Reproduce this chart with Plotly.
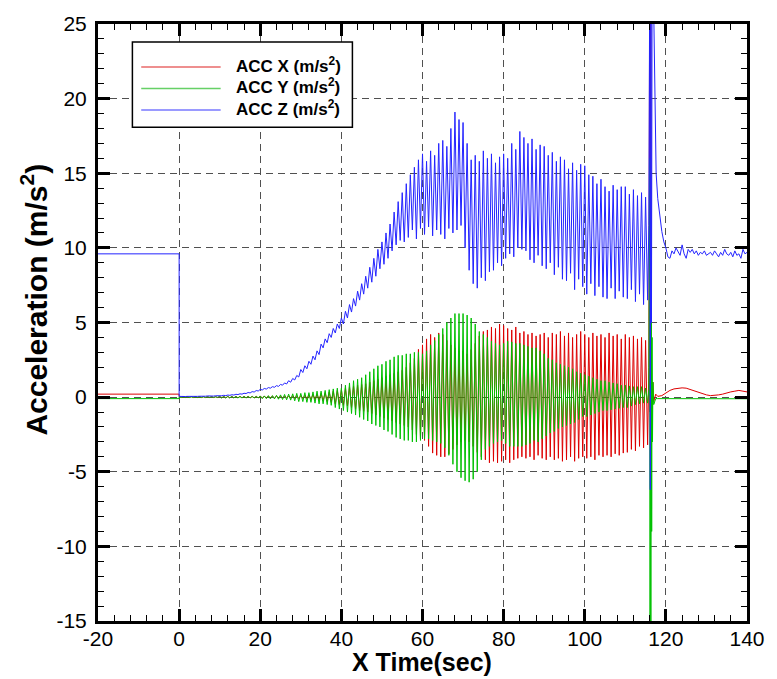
import plotly.graph_objects as go

# ---------------- data ----------------
# constant segment before launch (t = -20 .. 0 s)
pre_t = [-20.0, 0.0]
accx_pre = [0.2, 0.2]
accy_pre = [-0.1, -0.1]
accz_pre = [9.6, 9.6]

# oscillation cycles, one per second from t = 0 to 115 s:
# peak value at t = k, trough value at t = k + 0.5
cycle_start = list(range(0, 116))

accx_hi = [0.03]*10 + [0.04]*10 + [
    0.05, 0.05, 0.05, 0.06, 0.06, 0.07, 0.07, 0.08, 0.09, 0.10,
    0.10, 0.12, 0.15, 0.18, 0.20, 0.25, 0.30, 0.35, 0.40, 0.45,
    0.50, 0.60, 0.70, 0.75, 0.80, 0.85, 0.90, 1.00, 1.10, 1.20,
    1.30, 1.40, 1.50, 1.60, 1.70, 1.80, 2.00, 2.30, 2.60, 3.20,
    3.50, 3.90, 4.20, 4.00, 4.30, 4.20, 3.80, 3.50, 3.30, 3.10,
    3.10, 2.90, 3.20, 3.60, 4.10, 4.40, 4.50, 4.70, 4.60, 4.90,
    4.80, 4.60, 4.50, 4.70, 4.30, 4.40, 4.20, 4.30, 4.10, 4.20,
    4.30, 4.00, 4.30, 4.20, 4.40, 4.10, 4.30, 4.00, 4.20, 4.40,
    4.20, 4.00, 4.30, 4.10, 4.20, 4.00, 4.30, 4.10, 4.20, 3.90,
    4.20, 4.00, 4.10, 3.90, 4.00, 3.80]
accx_lo = [-0.03]*10 + [-0.04]*10 + [
    -0.05, -0.05, -0.05, -0.06, -0.06, -0.07, -0.07, -0.08, -0.09, -0.10,
    -0.10, -0.12, -0.15, -0.18, -0.20, -0.25, -0.30, -0.35, -0.45, -0.50,
    -0.55, -0.60, -0.70, -0.80, -0.90, -0.95, -1.00, -1.10, -1.20, -1.30,
    -1.40, -1.50, -1.60, -1.70, -1.80, -1.90, -2.00, -2.20, -2.50, -2.80,
    -2.90, -3.30, -3.75, -3.90, -4.00, -4.00, -3.80, -3.50, -3.20, -3.00,
    -2.90, -3.00, -3.30, -3.70, -4.00, -4.20, -4.40, -4.30, -4.40, -4.30,
    -4.20, -4.40, -4.20, -4.10, -4.00, -4.10, -4.00, -4.20, -3.90, -4.10,
    -4.20, -4.00, -4.20, -4.10, -4.30, -4.20, -4.00, -4.30, -4.10, -4.00,
    -4.10, -4.00, -4.20, -3.90, -4.00, -3.90, -4.00, -3.80, -3.90, -3.75,
    -3.70, -3.50, -3.60, -3.30, -3.40, -3.20]

accy_hi = [0.02]*10 + [0.05]*10 + [
    0.08, 0.08, 0.10, 0.10, 0.12, 0.15, 0.18, 0.20, 0.22, 0.25,
    0.25, 0.30, 0.30, 0.35, 0.40, 0.40, 0.45, 0.50, 0.55, 0.60,
    0.60, 0.80, 0.95, 1.10, 1.20, 1.30, 1.50, 1.70, 1.90, 2.10,
    2.20, 2.40, 2.50, 2.70, 2.80, 2.80, 2.90, 2.90, 3.00, 3.00,
    2.90, 3.10, 3.50, 3.80, 4.20, 4.60, 5.00, 5.30, 5.60, 5.60,
    5.60, 5.50, 5.30, 4.90, 4.40, 4.20, 4.00, 3.75, 3.60, 3.50,
    3.60, 3.75, 3.70, 3.60, 3.60, 3.50, 3.40, 3.30, 3.30, 3.10,
    2.90, 2.60, 2.50, 2.30, 2.20, 2.10, 2.00, 1.90, 1.70, 1.60,
    1.50, 1.40, 1.30, 1.20, 1.10, 1.10, 1.00, 0.95, 0.90, 0.80,
    0.80, 0.75, 0.70, 0.70, 0.70, 0.60]
accy_lo = [-0.02]*10 + [-0.06]*10 + [
    -0.10, -0.10, -0.12, -0.12, -0.14, -0.16, -0.18, -0.20, -0.25, -0.30,
    -0.30, -0.35, -0.35, -0.40, -0.45, -0.45, -0.50, -0.55, -0.70, -0.80,
    -0.90, -1.00, -1.10, -1.20, -1.35, -1.50, -1.60, -1.80, -1.90, -2.00,
    -2.20, -2.30, -2.50, -2.70, -2.80, -2.90, -2.90, -3.00, -3.00, -2.90,
    -2.80, -2.80, -2.90, -3.00, -3.10, -3.40, -3.90, -4.50, -5.00, -5.40,
    -5.60, -5.70, -5.50, -5.00, -4.20, -3.50, -3.30, -3.10, -3.00, -2.90,
    -3.10, -3.30, -3.30, -3.30, -3.30, -3.20, -3.10, -2.90, -3.00, -2.80,
    -2.60, -2.40, -2.30, -2.10, -2.00, -1.90, -1.80, -1.70, -1.50, -1.30,
    -1.30, -1.20, -1.10, -1.00, -0.90, -0.90, -0.85, -0.80, -0.75, -0.70,
    -0.70, -0.60, -0.50, -0.45, -0.40, -0.40]

accz_hi = [
    0.05, 0.05, 0.05, 0.05, 0.06, 0.06, 0.07, 0.08, 0.08, 0.09,
    0.10, 0.12, 0.14, 0.16, 0.19, 0.22, 0.26, 0.31, 0.37, 0.44,
    0.52, 0.58, 0.64, 0.70, 0.77, 0.85, 0.95, 1.10, 1.25, 1.45,
    1.85, 2.10, 2.40, 2.75, 3.10, 3.55, 3.90, 4.25, 4.60, 4.90,
    5.30, 5.75, 6.20, 6.60, 7.10, 7.60, 8.10, 8.70, 9.30, 9.90,
    10.4, 11.0, 11.6, 12.4, 13.1, 13.7, 14.3, 14.9, 15.4, 15.9,
    16.3, 15.8, 16.5, 16.2, 17.0, 17.2, 16.8, 18.0, 19.1, 18.6,
    18.4, 17.0, 15.9, 16.2, 15.8, 16.5, 16.0, 16.3, 15.7, 16.1,
    16.3, 16.0, 17.0, 16.6, 17.8, 17.4, 17.0, 17.3, 16.6, 16.9,
    16.8, 16.2, 16.4, 15.8, 16.1, 15.9, 15.3, 15.7, 15.2, 15.6,
    15.5, 14.9, 14.8, 14.3, 14.6, 14.1, 13.8, 14.2, 13.9, 14.1,
    14.1, 13.6, 13.9, 13.5, 13.7, 13.4]
accz_lo = [
    0.03, 0.04, 0.04, 0.04, 0.05, 0.05, 0.06, 0.06, 0.07, 0.08,
    0.09, 0.10, 0.12, 0.14, 0.17, 0.20, 0.24, 0.28, 0.34, 0.41,
    0.48, 0.54, 0.60, 0.66, 0.72, 0.80, 0.88, 1.00, 1.15, 1.35,
    1.65, 1.90, 2.20, 2.50, 2.85, 3.30, 3.65, 4.00, 4.30, 4.60,
    4.90, 5.30, 5.70, 6.10, 6.50, 6.90, 7.30, 7.70, 8.10, 8.60,
    8.90, 9.30, 9.80, 10.2, 10.5, 10.4, 10.7, 11.2, 10.6, 11.3,
    10.9, 11.4, 10.8, 11.2, 10.9, 10.6, 11.3, 11.0, 11.2, 11.5,
    10.0, 8.5, 7.6, 7.3, 8.0, 7.8, 8.4, 8.5, 9.0, 8.8,
    9.3, 9.6, 9.4, 10.0, 9.9, 9.8, 9.2, 9.0, 9.5, 8.8,
    8.6, 9.0, 8.2, 8.7, 7.9, 7.8, 8.3, 7.2, 7.9, 7.4,
    6.9, 7.6, 6.8, 7.4, 6.7, 6.6, 7.3, 6.6, 7.1, 6.7,
    6.6, 7.2, 6.4, 6.9, 6.2, 6.5]

# impact spike near t = 116 s (values above 25 / below -15 are clipped)
accx_spike_t = [115.8, 116.0, 116.1, 116.25, 116.4, 116.6, 116.8, 117.0, 117.5, 118.0]
accx_spike_v = [2.0, 27.0, -1.0, 27.0, 3.5, -0.8, 1.0, -0.3, 0.2, 0.05]
accy_spike_t = [115.8, 116.0, 116.1, 116.2, 116.3, 116.4, 116.5, 116.6, 116.7, 116.8, 117.0, 117.5]
accy_spike_v = [0.5, 16.0, -16.0, 12.0, -15.5, 8.0, -9.0, 4.0, -3.0, 1.0, -0.5, -0.1]
accz_spike_t = [115.8, 116.0, 116.15, 116.3, 116.45, 116.6, 117.0, 117.3, 117.6, 118.0,
                118.3, 118.6, 119.0, 119.5, 120.0]
accz_spike_v = [11.5, 27.0, -6.2, 27.0, 5.0, 27.0, 26.0, 18.9, 15.0, 13.3,
                12.6, 11.7, 11.1, 10.4, 10.0]

# after impact
accx_tail_t = list(range(119, 141))
accx_tail_v = [0.10, 0.30, 0.45, 0.55, 0.60, 0.62, 0.60, 0.50, 0.40, 0.30, 0.20,
               0.15, 0.10, 0.10, 0.15, 0.20, 0.30, 0.35, 0.40, 0.45, 0.40, 0.35]
accy_tail_t = list(range(118, 141))
accy_tail_v = [-0.10, -0.10, -0.12, -0.10, -0.11, -0.10, -0.10, -0.12, -0.10, -0.10,
               -0.11, -0.10, -0.10, -0.12, -0.10, -0.10, -0.11, -0.10, -0.10, -0.12,
               -0.10, -0.10, -0.11]
accz_tail_t = [120.5 + 0.5 * i for i in range(40)]
accz_tail_v = [9.4, 9.3, 9.8, 9.6, 10.0, 9.7, 9.5, 10.2, 9.6, 9.3,
               9.9, 9.7, 9.9, 9.6, 9.8, 9.5, 9.7, 9.6, 9.8, 9.5,
               9.6, 9.7, 9.5, 9.8, 9.6, 9.4, 9.7, 9.5, 9.9, 9.6,
               9.5, 9.7, 9.4, 9.8, 9.5, 9.6, 9.3, 9.9, 9.6, 9.7]

# tick labels (plain hyphen minus, as in the original)
x_tick_vals = [-20, 0, 20, 40, 60, 80, 100, 120, 140]
x_tick_text = ["-20", "0", "20", "40", "60", "80", "100", "120", "140"]
y_tick_vals = [-15, -10, -5, 0, 5, 10, 15, 20, 25]
y_tick_text = ["-15", "-10", "-5", "0", "5", "10", "15", "20", "25"]

series_names = ["ACC X (m/s<sup>2</sup>)", "ACC Y (m/s<sup>2</sup>)", "ACC Z (m/s<sup>2</sup>)"]
series_colors = ["#dd0000", "#00c000", "#2424ff"]
legend_colors = ["#e86a6a", "#66d066", "#7878ff"]


def build(pre_v, hi, lo, sp_t, sp_v, tl_t, tl_v):
    xs = list(pre_t)
    ys = list(pre_v)
    for k, (h, l) in enumerate(zip(hi, lo)):
        xs += [cycle_start[k], cycle_start[k] + 0.5]
        ys += [h, l]
    xs += list(sp_t) + list(tl_t)
    ys += list(sp_v) + list(tl_v)
    return xs, ys


data = [
    build(accx_pre, accx_hi, accx_lo, accx_spike_t, accx_spike_v, accx_tail_t, accx_tail_v),
    build(accy_pre, accy_hi, accy_lo, accy_spike_t, accy_spike_v, accy_tail_t, accy_tail_v),
    build(accz_pre, accz_hi, accz_lo, accz_spike_t, accz_spike_v, accz_tail_t, accz_tail_v),
]

fig = go.Figure()
for (xs, ys), name, col in zip(data, series_names, series_colors):
    fig.add_trace(go.Scatter(x=xs, y=ys, mode="lines", name=name,
                             line=dict(color=col, width=1), showlegend=False))

font_main = "Liberation Sans, Arial, sans-serif"
axis_common = dict(
    showline=True, linewidth=3, linecolor="black", mirror="allticks",
    ticks="inside", ticklen=12, tickwidth=2.5, tickcolor="black",
    showgrid=True, gridcolor="#505050", gridwidth=1, griddash="7px,5px",
    zeroline=False, tickfont=dict(family=font_main, size=21, color="black"),
)

fig.update_layout(
    width=777, height=679,
    margin=dict(l=98, r=18, t=20, b=58),
    paper_bgcolor="white", plot_bgcolor="white",
    xaxis=dict(range=[-20, 140], tickmode="array", tickvals=x_tick_vals, ticktext=x_tick_text,
               ticklabelstandoff=-3,
               minor=dict(dtick=4, tick0=-20, ticks="inside", ticklen=6, tickwidth=1.2,
                          tickcolor="black", showgrid=False),
               **axis_common),
    yaxis=dict(range=[-15, 25], tickmode="array", tickvals=y_tick_vals, ticktext=y_tick_text,
               ticklabelstandoff=4,
               minor=dict(dtick=1, tick0=-15, ticks="inside", ticklen=6, tickwidth=1.2,
                          tickcolor="black", showgrid=False),
               **axis_common),
)

# axis titles
fig.add_annotation(text="<b>X Time(sec)</b>", xref="paper", yref="paper",
                   x=0.499, y=-0.068, xanchor="center", yanchor="middle",
                   showarrow=False, font=dict(family=font_main, size=25, color="black"))
fig.add_annotation(text="<b>Acceleration (m/s<sup>2</sup>)</b>", xref="paper", yref="paper",
                   x=-0.098, y=0.539, xanchor="center", yanchor="middle", textangle=-90,
                   showarrow=False, font=dict(family=font_main, size=30, color="black"))

# legend box drawn by hand (long sample lines as in the original)
fig.add_shape(type="rect", xref="paper", yref="paper", x0=0.053, x1=0.392,
              y0=0.827, y1=0.970, line=dict(color="black", width=1.5),
              fillcolor="white", layer="above")
legend_rows = [0.928, 0.892, 0.856]
for name, col, yr in zip(series_names, legend_colors, legend_rows):
    fig.add_shape(type="line", xref="paper", yref="paper", x0=0.0666, x1=0.189,
                  y0=yr, y1=yr, line=dict(color=col, width=1.5), layer="above")
    fig.add_annotation(text="<b>" + name + "</b>", xref="paper", yref="paper",
                       x=0.2103, y=yr + 0.004, xanchor="left", yanchor="middle",
                       showarrow=False, font=dict(family=font_main, size=17, color="black"))

fig.write_html("out.html")
